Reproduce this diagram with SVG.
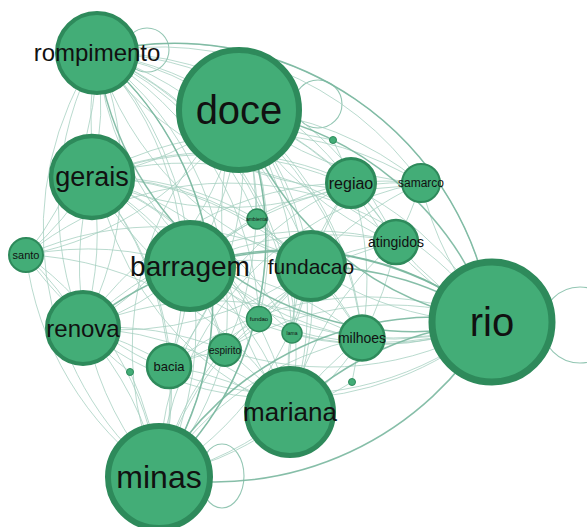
<svg xmlns="http://www.w3.org/2000/svg" width="587" height="527" viewBox="0 0 587 527">
  <style>
    .e path { fill: none; stroke: #a3cfbf; stroke-width: 0.9; opacity: 0.85; }
    .e .h { stroke: #79b79f; stroke-width: 1.5; opacity: 0.9; }
    .e .loop { fill: none; stroke: #93c6b3; stroke-width: 1.1; }
    .n circle { fill: #43ad77; stroke: #2e8a5b; }
    .n text { font-family: "Liberation Sans", Arial, sans-serif; fill: #111; text-anchor: middle; }
  </style>
  <rect width="587" height="527" fill="#ffffff"/>

  <!-- connectors: curved edges drawn as arcs of a fixed radius -->
  <g id="edges" class="e">
    <circle class="loop" cx="147" cy="50" r="22"/>
    <circle class="loop" cx="318" cy="104" r="24"/>
    <ellipse class="loop" cx="222" cy="476" rx="22" ry="32"/>
    <circle class="loop" cx="580" cy="325" r="38"/>

    <!-- rompimento -->
    <path d="M97 53A320 320 0 0 1 239 110"/>
    <path d="M97 53A320 320 0 0 1 92 177"/>
    <path d="M97 53A320 320 0 0 1 26 255"/>
    <path d="M97 53A320 320 0 0 1 190 266"/>
    <path d="M97 53A320 320 0 0 1 311 266"/>
    <path d="M97 53A320 320 0 0 1 83 328"/>
    <path d="M97 53A320 320 0 0 1 169 366"/>
    <path d="M97 53A320 320 0 0 1 225 350"/>
    <path d="M97 53A320 320 0 0 1 290 412"/>
    <path d="M97 53A320 320 0 0 1 159 477"/>
    <path d="M97 53A320 320 0 0 1 492 322"/>
    <path d="M97 53A320 320 0 0 1 351 183"/>
    <path d="M97 53A320 320 0 0 1 421 183"/>
    <path d="M97 53A320 320 0 0 1 396 242"/>
    <path d="M97 53A320 320 0 0 1 362 338"/>
    <path d="M97 53A320 320 0 0 1 257 219"/>
    <path d="M97 53A320 320 0 0 1 259 319"/>
    <path d="M97 53A320 320 0 0 1 292 333"/>
    <!-- doce -->
    <path d="M239 110A320 320 0 0 1 92 177"/>
    <path d="M239 110A320 320 0 0 1 26 255"/>
    <path d="M239 110A320 320 0 0 1 190 266"/>
    <path d="M239 110A320 320 0 0 1 311 266"/>
    <path d="M239 110A320 320 0 0 1 83 328"/>
    <path d="M239 110A320 320 0 0 1 169 366"/>
    <path d="M239 110A320 320 0 0 1 225 350"/>
    <path d="M239 110A320 320 0 0 1 290 412"/>
    <path d="M239 110A320 320 0 0 1 159 477"/>
    <path d="M239 110A320 320 0 0 1 351 183"/>
    <path d="M239 110A320 320 0 0 1 421 183"/>
    <path d="M239 110A320 320 0 0 1 396 242"/>
    <path d="M239 110A320 320 0 0 1 362 338"/>
    <path d="M239 110A320 320 0 0 1 257 219"/>
    <path d="M239 110A320 320 0 0 1 259 319"/>
    <path d="M239 110A320 320 0 0 1 292 333"/>
    <!-- gerais -->
    <path d="M92 177A320 320 0 0 1 26 255"/>
    <path d="M92 177A320 320 0 0 1 190 266"/>
    <path d="M92 177A320 320 0 0 1 311 266"/>
    <path d="M92 177A320 320 0 0 1 83 328"/>
    <path d="M92 177A320 320 0 0 1 169 366"/>
    <path d="M92 177A320 320 0 0 1 225 350"/>
    <path d="M92 177A320 320 0 0 1 290 412"/>
    <path d="M92 177A320 320 0 0 1 159 477"/>
    <path d="M92 177A320 320 0 0 1 492 322"/>
    <path d="M92 177A320 320 0 0 1 351 183"/>
    <path d="M92 177A320 320 0 0 1 421 183"/>
    <path d="M92 177A320 320 0 0 1 396 242"/>
    <path d="M92 177A320 320 0 0 1 362 338"/>
    <path d="M92 177A320 320 0 0 1 257 219"/>
    <path d="M92 177A320 320 0 0 1 259 319"/>
    <path d="M92 177A320 320 0 0 1 292 333"/>
    <!-- santo -->
    <path d="M26 255A320 320 0 0 1 190 266"/>
    <path d="M26 255A320 320 0 0 1 311 266"/>
    <path d="M26 255A320 320 0 0 1 83 328"/>
    <path d="M26 255A320 320 0 0 1 290 412"/>
    <path d="M26 255A320 320 0 0 1 159 477"/>
    <path d="M26 255A320 320 0 0 1 492 322"/>
    <!-- barragem -->
    <path d="M190 266A320 320 0 0 1 311 266"/>
    <path d="M190 266A320 320 0 0 1 83 328"/>
    <path d="M190 266A320 320 0 0 1 169 366"/>
    <path d="M190 266A320 320 0 0 1 225 350"/>
    <path d="M190 266A320 320 0 0 1 290 412"/>
    <path d="M190 266A320 320 0 0 1 159 477"/>
    <path d="M190 266A320 320 0 0 1 351 183"/>
    <path d="M190 266A320 320 0 0 1 421 183"/>
    <path d="M190 266A320 320 0 0 1 396 242"/>
    <path d="M190 266A320 320 0 0 1 362 338"/>
    <path d="M190 266A320 320 0 0 1 257 219"/>
    <path d="M190 266A320 320 0 0 1 259 319"/>
    <path d="M190 266A320 320 0 0 1 292 333"/>
    <!-- fundacao -->
    <path d="M311 266A320 320 0 0 1 83 328"/>
    <path d="M311 266A320 320 0 0 1 169 366"/>
    <path d="M311 266A320 320 0 0 1 225 350"/>
    <path d="M311 266A320 320 0 0 1 290 412"/>
    <path d="M311 266A320 320 0 0 1 159 477"/>
    <path d="M311 266A320 320 0 0 1 351 183"/>
    <path d="M311 266A320 320 0 0 1 421 183"/>
    <path d="M311 266A320 320 0 0 1 396 242"/>
    <path d="M311 266A320 320 0 0 1 362 338"/>
    <path d="M311 266A320 320 0 0 1 257 219"/>
    <path d="M311 266A320 320 0 0 1 259 319"/>
    <path d="M311 266A320 320 0 0 1 292 333"/>
    <!-- renova -->
    <path d="M83 328A320 320 0 0 1 169 366"/>
    <path d="M83 328A320 320 0 0 1 225 350"/>
    <path d="M83 328A320 320 0 0 1 290 412"/>
    <path d="M83 328A320 320 0 0 1 159 477"/>
    <path d="M83 328A320 320 0 0 1 351 183"/>
    <path d="M83 328A320 320 0 0 1 396 242"/>
    <path d="M83 328A320 320 0 0 1 362 338"/>
    <!-- bacia, espirito -->
    <path d="M169 366A320 320 0 0 1 225 350"/>
    <path d="M169 366A320 320 0 0 1 290 412"/>
    <path d="M169 366A320 320 0 0 1 159 477"/>
    <path d="M169 366A320 320 0 0 1 492 322"/>
    <path d="M225 350A320 320 0 0 1 290 412"/>
    <path d="M225 350A320 320 0 0 1 159 477"/>
    <path d="M225 350A320 320 0 0 1 492 322"/>
    <!-- mariana -->
    <path d="M290 412A320 320 0 0 1 159 477"/>
    <path d="M290 412A320 320 0 0 1 351 183"/>
    <path d="M290 412A320 320 0 0 1 396 242"/>
    <path d="M290 412A320 320 0 0 1 362 338"/>
    <path d="M290 412A320 320 0 0 1 292 333"/>
    <!-- minas -->
    <path d="M159 477A320 320 0 0 1 351 183"/>
    <path d="M159 477A320 320 0 0 1 421 183"/>
    <path d="M159 477A320 320 0 0 1 396 242"/>
    <path d="M159 477A320 320 0 0 1 362 338"/>
    <path d="M159 477A320 320 0 0 1 259 319"/>
    <!-- rio -->
    <path d="M492 322A320 320 0 0 1 351 183"/>
    <path d="M492 322A320 320 0 0 1 421 183"/>
    <path d="M492 322A320 320 0 0 1 396 242"/>
    <path d="M492 322A320 320 0 0 1 362 338"/>
    <path d="M492 322A320 320 0 0 1 257 219"/>
    <path d="M492 322A320 320 0 0 1 259 319"/>
    <path d="M492 322A320 320 0 0 1 292 333"/>
    <path d="M492 322A320 320 0 0 1 83 328"/>
    <path d="M492 322A320 320 0 0 1 26 255"/>
    <!-- regiao, samarco, atingidos -->
    <path d="M351 183A320 320 0 0 1 421 183"/>
    <path d="M351 183A320 320 0 0 1 396 242"/>
    <path d="M351 183A320 320 0 0 1 362 338"/>
    <path d="M421 183A320 320 0 0 1 396 242"/>
    <path d="M396 242A320 320 0 0 1 362 338"/>
    <!-- small unlabeled nodes -->
    <path d="M333 140A320 320 0 0 1 239 110"/>
    <path d="M333 140A320 320 0 0 1 351 183"/>
    <path d="M130 372A320 320 0 0 1 83 328"/>
    <path d="M130 372A320 320 0 0 1 159 477"/>
    <path d="M352 382A320 320 0 0 1 362 338"/>
    <path d="M352 382A320 320 0 0 1 290 412"/>
    <!-- reverse direction, bending outward -->
    <path d="M159 477A320 320 0 0 1 97 53"/>
    <path d="M159 477A320 320 0 0 1 92 177"/>
    <path d="M159 477A320 320 0 0 1 239 110"/>
    <path d="M159 477A320 320 0 0 1 26 255"/>
    <path d="M290 412A320 320 0 0 1 97 53"/>
    <path d="M290 412A320 320 0 0 1 239 110"/>
    <path d="M83 328A320 320 0 0 1 97 53"/>
    <path d="M421 183A320 320 0 0 1 97 53"/>
    <path d="M421 183A320 320 0 0 1 239 110"/>
    <path d="M362 338A320 320 0 0 1 97 53"/>
    <path d="M396 242A320 320 0 0 1 239 110"/>
    <path d="M311 266A320 320 0 0 1 97 53"/>
    <path d="M351 183A320 320 0 0 1 92 177"/>
    <path d="M492 322A320 320 0 0 1 92 177"/>
    <path d="M492 322A320 320 0 0 1 190 266"/>
    <path d="M492 322A320 320 0 0 1 225 350"/>
    <path d="M362 338A320 320 0 0 1 159 477"/>

    <!-- heavier edges -->
    <path class="h" d="M97 53A320 320 0 0 1 492 322"/>
    <path class="h" d="M239 110A320 320 0 0 1 492 322"/>
    <path class="h" d="M190 266A320 320 0 0 1 492 322"/>
    <path class="h" d="M311 266A320 320 0 0 1 492 322"/>
    <path class="h" d="M290 412A320 320 0 0 1 492 322"/>
    <path class="h" d="M159 477A320 320 0 0 1 492 322"/>
    <path class="h" d="M83 328A320 320 0 0 1 492 322"/>
    <path class="h" d="M492 322A320 320 0 0 1 97 53"/>
    <path class="h" d="M492 322A320 320 0 0 1 239 110"/>
    <path class="h" d="M492 322A320 320 0 0 1 159 477"/>
    <path class="h" d="M239 110A320 320 0 0 1 159 477"/>
    <path class="h" d="M97 53A320 320 0 0 1 159 477"/>
  </g>

  <!-- nodes -->
  <g id="node-rompimento" class="n"><circle cx="97" cy="53" r="40" stroke-width="4"/><text x="97" y="61" font-size="24">rompimento</text></g>
  <g id="node-doce" class="n"><circle cx="239" cy="110" r="60" stroke-width="6"/><text x="239" y="124" font-size="40">doce</text></g>
  <g id="node-gerais" class="n"><circle cx="92" cy="177" r="41" stroke-width="4.5"/><text x="92" y="186" font-size="27">gerais</text></g>
  <g id="node-santo" class="n"><circle cx="26" cy="255" r="17" stroke-width="2"/><text x="26" y="259" font-size="11">santo</text></g>
  <g id="node-barragem" class="n"><circle cx="190" cy="266" r="43.5" stroke-width="5"/><text x="190" y="276" font-size="28">barragem</text></g>
  <g id="node-fundacao" class="n"><circle cx="311" cy="266" r="34" stroke-width="4"/><text x="311" y="274" font-size="21">fundacao</text></g>
  <g id="node-renova" class="n"><circle cx="83" cy="328" r="36" stroke-width="4"/><text x="83" y="337" font-size="24">renova</text></g>
  <g id="node-bacia" class="n"><circle cx="169" cy="366" r="22" stroke-width="2.5"/><text x="169" y="371" font-size="13">bacia</text></g>
  <g id="node-espirito" class="n"><circle cx="225" cy="350" r="16" stroke-width="2"/><text x="225" y="354" font-size="10">espirito</text></g>
  <g id="node-mariana" class="n"><circle cx="290" cy="412" r="43.5" stroke-width="5"/><text x="290" y="421" font-size="26">mariana</text></g>
  <g id="node-minas" class="n"><circle cx="159" cy="477" r="51" stroke-width="6"/><text x="159" y="488" font-size="32">minas</text></g>
  <g id="node-rio" class="n"><circle cx="492" cy="322" r="60" stroke-width="7"/><text x="492" y="336" font-size="40">rio</text></g>
  <g id="node-regiao" class="n"><circle cx="351" cy="183" r="24.5" stroke-width="3"/><text x="351" y="189" font-size="16">regiao</text></g>
  <g id="node-samarco" class="n"><circle cx="421" cy="183" r="19" stroke-width="2"/><text x="421" y="187" font-size="12">samarco</text></g>
  <g id="node-atingidos" class="n"><circle cx="396" cy="242" r="22" stroke-width="2.5"/><text x="396" y="247" font-size="14">atingidos</text></g>
  <g id="node-milhoes" class="n"><circle cx="362" cy="338" r="22.5" stroke-width="2.5"/><text x="362" y="343" font-size="14">milhoes</text></g>
  <g id="node-ambiental" class="n"><circle cx="257" cy="219" r="10" stroke-width="1.5"/><text x="257" y="221" font-size="5">ambiental</text></g>
  <g id="node-fundao" class="n"><circle cx="259" cy="319" r="12.5" stroke-width="1.5"/><text x="259" y="321" font-size="6">fundao</text></g>
  <g id="node-lama" class="n"><circle cx="292" cy="333" r="10" stroke-width="1.5"/><text x="292" y="335" font-size="5">lama</text></g>
  <g id="node-dot1" class="n"><circle cx="333" cy="140" r="3.5" stroke-width="1"/></g>
  <g id="node-dot2" class="n"><circle cx="130" cy="372" r="3.5" stroke-width="1"/></g>
  <g id="node-dot3" class="n"><circle cx="352" cy="382" r="3.5" stroke-width="1"/></g>
</svg>
